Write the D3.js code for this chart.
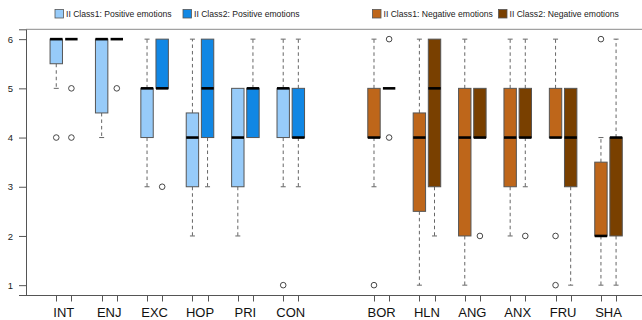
<!DOCTYPE html>
<html>
<head>
<meta charset="utf-8">
<script src="https://cdn.jsdelivr.net/npm/d3@7"></script>
<style>
  html, body { margin: 0; padding: 0; background: #fff; }
  svg { display: block; font-family: "Liberation Sans", Arial, sans-serif; }
</style>
</head>
<body>
<svg id="chart" width="642" height="320"></svg>
<script>
// Emotion categories, positive block then negative block
const positiveCats = ["INT", "ENJ", "EXC", "HOP", "PRI", "CON"];
const negativeCats = ["BOR", "HLN", "ANG", "ANX", "FRU", "SHA"];
const categories = positiveCats.concat(negativeCats);

// Box statistics per category: lower whisker, Q1, median, Q3, upper whisker
const class1Low    = [5,   4,   3, 2,   2, 3,   3, 1,   1, 2, 4, 1];
const class1Q1     = [5.5, 4.5, 4, 3,   3, 4,   4, 2.5, 2, 3, 4, 2];
const class1Median = [6,   6,   5, 4,   4, 5,   4, 4,   4, 4, 4, 2];
const class1Q3     = [6,   6,   5, 4.5, 5, 5,   5, 4.5, 5, 5, 5, 3.5];
const class1High   = [6,   6,   6, 6,   5, 6,   6, 6,   6, 6, 6, 4];
const class1Out    = [[4], [], [], [], [], [1], [1], [], [], [], [2, 1], [6]];

const class2Low    = [6, 6, 5, 3, 4, 3, 5, 2, 4, 3, 1, 1];
const class2Q1     = [6, 6, 5, 4, 4, 4, 5, 3, 4, 4, 3, 2];
const class2Median = [6, 6, 5, 5, 5, 4, 5, 5, 4, 4, 4, 4];
const class2Q3     = [6, 6, 6, 6, 5, 5, 5, 6, 5, 5, 5, 4];
const class2High   = [6, 6, 6, 6, 6, 6, 5, 6, 5, 6, 5, 6];
const class2Out    = [[5, 4], [5], [3], [], [], [], [6, 4], [], [2], [2], [], []];

const yTicks = [1, 2, 3, 4, 5, 6];

const legendLabels = [
  "II Class1: Positive emotions",
  "II Class2: Positive emotions",
  "II Class1: Negative emotions",
  "II Class2: Negative emotions"
];

const colors = {
  pos1: "#97cbf9",
  pos2: "#1187e4",
  neg1: "#be661a",
  neg2: "#794000"
};

const svg = d3.select("#chart");

// Slot positions: each category takes two adjacent slots, one blank slot between
// categories, and a wider gap between the positive and negative blocks.
function slotOf(i) {
  return i < 6 ? 1 + i * 3 : 22 + (i - 6) * 3;
}

const x = d3.scaleLinear().domain([-1, 40]).range([26, 26 + 41 * 15.13]);
const y = d3.scaleLinear().domain([0.8, 6.2]).range([295, 29.3]);

const boxHalf = 6.2;
const capHalf = 2.5;

// Build one record per box
const boxes = [];
categories.forEach((c, i) => {
  const s = slotOf(i);
  const neg = i >= 6;
  boxes.push({
    pos: s, color: neg ? colors.neg1 : colors.pos1,
    lo: class1Low[i], q1: class1Q1[i], med: class1Median[i], q3: class1Q3[i], hi: class1High[i],
    out: class1Out[i]
  });
  boxes.push({
    pos: s + 1, color: neg ? colors.neg2 : colors.pos2,
    lo: class2Low[i], q1: class2Q1[i], med: class2Median[i], q3: class2Q3[i], hi: class2High[i],
    out: class2Out[i]
  });
});

// Frame: faint top line, axes on left and bottom
svg.append("line")
  .attr("x1", 26).attr("x2", 642).attr("y1", y(6.2)).attr("y2", y(6.2))
  .attr("stroke", "#8a8a8a").attr("stroke-width", 1);

const yAxis = d3.axisLeft(y).tickValues(yTicks).tickSize(7).tickPadding(6).tickFormat(d3.format("d"));
const gy = svg.append("g").attr("transform", "translate(26,0)").call(yAxis);
gy.select(".domain").attr("stroke", "#555");
gy.selectAll(".tick line").attr("stroke", "#555");
gy.selectAll(".tick text").attr("font-size", "9.5px").attr("fill", "#222")
  .attr("font-family", "Liberation Sans, Arial, sans-serif");

// Bottom axis: line plus a tick under each box
svg.append("line")
  .attr("x1", 26).attr("x2", 642).attr("y1", 295.5).attr("y2", 295.5)
  .attr("stroke", "#555");
svg.append("g").selectAll("line").data(boxes).join("line")
  .attr("x1", d => Math.round(x(d.pos)) + 0.5).attr("x2", d => Math.round(x(d.pos)) + 0.5)
  .attr("y1", 295).attr("y2", 301.5)
  .attr("stroke", "#555");

svg.append("g").selectAll("text").data(categories).join("text")
  .attr("x", (d, i) => x(slotOf(i) + 0.5))
  .attr("y", 316.5)
  .attr("text-anchor", "middle")
  .attr("font-size", "13px")
  .attr("fill", "#111")
  .text(d => d);

// Boxplots
const g = svg.append("g");
boxes.forEach(b => {
  const cx = x(b.pos);
  // whiskers (dashed) and staples
  if (b.hi > b.q3) {
    g.append("line").attr("x1", cx).attr("x2", cx).attr("y1", y(b.q3)).attr("y2", y(b.hi))
      .attr("stroke", "#666").attr("stroke-dasharray", "3.5,3");
    g.append("line").attr("x1", cx - capHalf).attr("x2", cx + capHalf).attr("y1", y(b.hi)).attr("y2", y(b.hi))
      .attr("stroke", "#666");
  }
  if (b.lo < b.q1) {
    g.append("line").attr("x1", cx).attr("x2", cx).attr("y1", y(b.q1)).attr("y2", y(b.lo))
      .attr("stroke", "#666").attr("stroke-dasharray", "3.5,3");
    g.append("line").attr("x1", cx - capHalf).attr("x2", cx + capHalf).attr("y1", y(b.lo)).attr("y2", y(b.lo))
      .attr("stroke", "#666");
  }
  // box
  g.append("rect")
    .attr("x", cx - boxHalf).attr("width", boxHalf * 2)
    .attr("y", y(b.q3)).attr("height", Math.max(0, y(b.q1) - y(b.q3)))
    .attr("fill", b.color).attr("stroke", "#555").attr("stroke-width", 1);
  // median
  g.append("line").attr("x1", cx - boxHalf).attr("x2", cx + boxHalf)
    .attr("y1", y(b.med)).attr("y2", y(b.med))
    .attr("stroke", "#000").attr("stroke-width", 2.6);
  // outliers
  b.out.forEach(v => {
    g.append("circle").attr("cx", cx).attr("cy", y(v)).attr("r", 2.8)
      .attr("fill", "none").attr("stroke", "#333").attr("stroke-width", 0.9);
  });
});

// Legend
const legendItems = [
  { label: legendLabels[0], color: colors.pos1, x: 55 },
  { label: legendLabels[1], color: colors.pos2, x: 183 },
  { label: legendLabels[2], color: colors.neg1, x: 372.5 },
  { label: legendLabels[3], color: colors.neg2, x: 498.5 }
];
const lg = svg.append("g").selectAll("g").data(legendItems).join("g")
  .attr("transform", d => `translate(${d.x},9.5)`);
lg.append("rect").attr("width", 8.5).attr("height", 8.5)
  .attr("fill", d => d.color).attr("stroke", "#555").attr("stroke-width", 0.8);
lg.append("text").attr("x", 11).attr("y", 7.9)
  .attr("font-size", "8.6px").attr("fill", "#222")
  .text(d => d.label);
</script>
</body>
</html>
